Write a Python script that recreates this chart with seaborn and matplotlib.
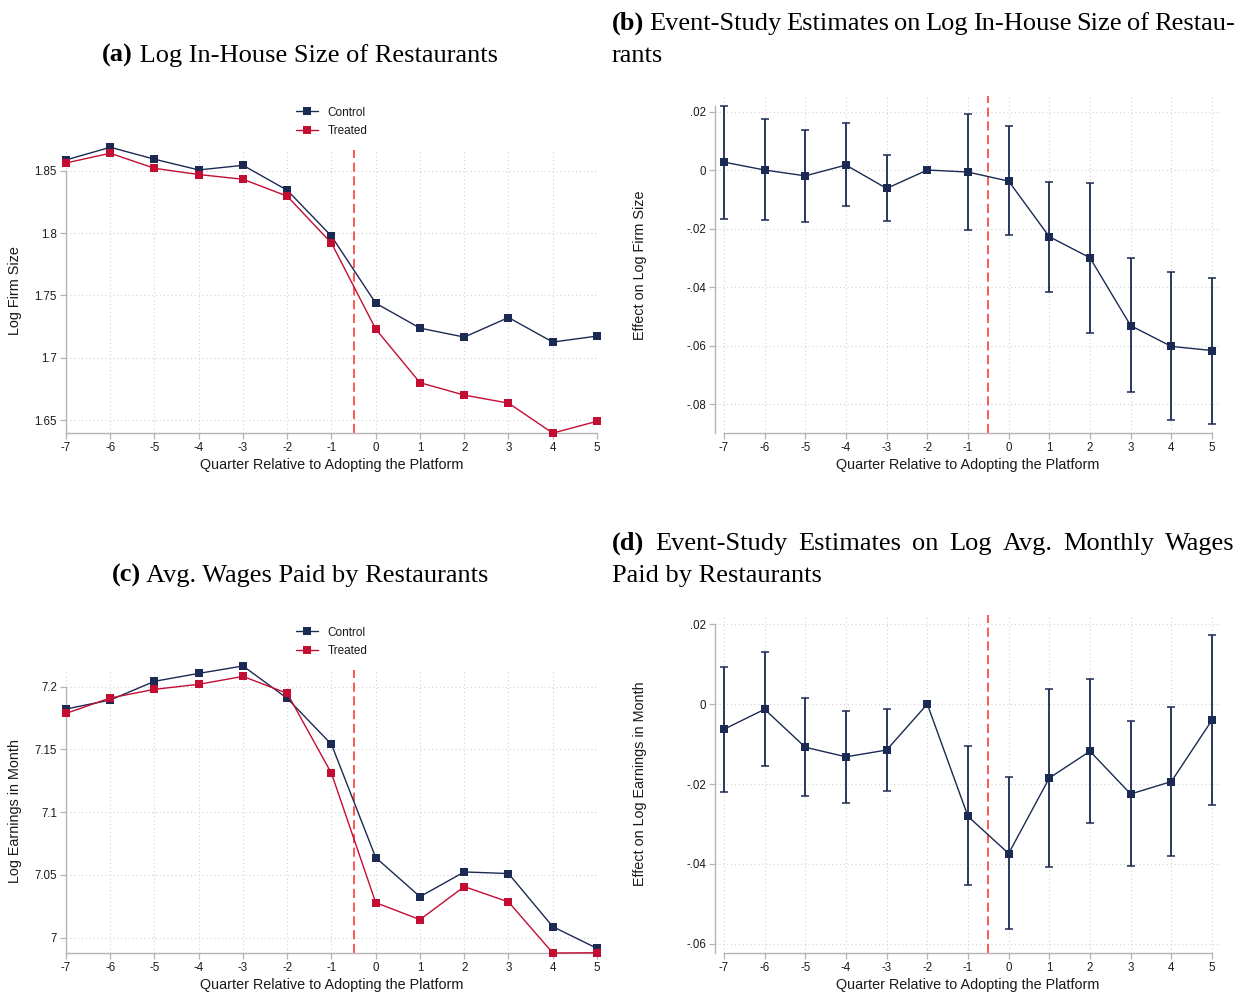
import matplotlib
matplotlib.use("Agg")
import matplotlib.pyplot as plt
import seaborn as sns
import pandas as pd

# ---- data -------------------------------------------------------------
quarters = [-7, -6, -5, -4, -3, -2, -1, 0, 1, 2, 3, 4, 5]
xtick_labels = ["-7", "-6", "-5", "-4", "-3", "-2", "-1", "0", "1", "2", "3", "4", "5"]

size_control = [1.8588, 1.8690, 1.8594, 1.8508, 1.8545, 1.8345, 1.7976,
                1.7438, 1.7238, 1.7166, 1.7323, 1.7126, 1.7174]
size_treated = [1.8564, 1.8642, 1.8521, 1.8471, 1.8433, 1.8297, 1.7920,
                1.7230, 1.6800, 1.6700, 1.6636, 1.6395, 1.6490]

wage_control = [7.1822, 7.1894, 7.2043, 7.2106, 7.2165, 7.1907, 7.1540,
                7.0638, 7.0327, 7.0524, 7.0511, 7.0088, 6.9915]
wage_treated = [7.1787, 7.1910, 7.1979, 7.2019, 7.2082, 7.1947, 7.1309,
                7.0279, 7.0144, 7.0407, 7.0285, 6.9878, 6.9880]

es_size_coef = [0.0027, 0.0000, -0.0020, 0.0017, -0.0063, 0.0000, -0.0007,
                -0.0038, -0.0228, -0.0300, -0.0532, -0.0603, -0.0617]
es_size_hi = [0.0220, 0.0174, 0.0136, 0.0160, 0.0051, 0.0000, 0.0193,
              0.0152, -0.0040, -0.0045, -0.0301, -0.0349, -0.0368]
es_size_lo = [-0.0167, -0.0172, -0.0178, -0.0124, -0.0175, 0.0000, -0.0206,
              -0.0222, -0.0418, -0.0556, -0.0759, -0.0856, -0.0868]

es_wage_coef = [-0.0063, -0.0013, -0.0108, -0.0132, -0.0115, 0.0000, -0.0281,
                -0.0374, -0.0185, -0.0118, -0.0225, -0.0194, -0.0040]
es_wage_hi = [0.0094, 0.0130, 0.0016, -0.0018, -0.0013, 0.0000, -0.0106,
              -0.0183, 0.0038, 0.0062, -0.0042, -0.0007, 0.0174]
es_wage_lo = [-0.0221, -0.0156, -0.0231, -0.0248, -0.0217, 0.0000, -0.0452,
              -0.0562, -0.0408, -0.0298, -0.0406, -0.0381, -0.0253]

size_yticks = [1.65, 1.7, 1.75, 1.8, 1.85]
size_ytick_labels = ["1.65", "1.7", "1.75", "1.8", "1.85"]
wage_yticks = [7.0, 7.05, 7.1, 7.15, 7.2]
wage_ytick_labels = ["7", "7.05", "7.1", "7.15", "7.2"]
es_size_yticks = [-0.08, -0.06, -0.04, -0.02, 0.0, 0.02]
es_size_ytick_labels = ["-.08", "-.06", "-.04", "-.02", "0", ".02"]
es_wage_yticks = [-0.06, -0.04, -0.02, 0.0, 0.02]
es_wage_ytick_labels = ["-.06", "-.04", "-.02", "0", ".02"]

adoption_cut = -0.5

# ---- style ------------------------------------------------------------
sns.set_theme(style="white")
plt.rcParams["font.family"] = ["Liberation Sans", "DejaVu Sans"]

NAVY = "#1b2a52"
CRIMSON = "#c40d33"
CUT_RED = "#ff2a2a"
SPINE = "#b4b4b4"
GRID = "#d2d2d2"
TEXT = "#1a1a1a"
SERIF = ["Liberation Serif", "DejaVu Serif"]

W, H = 1247, 996
fig = plt.figure(figsize=(W / 100, H / 100), dpi=100)


def px_axes(left, right, top, bottom):
    return fig.add_axes([left / W, 1 - bottom / H, (right - left) / W, (bottom - top) / H])


def style_axes(ax, yticks, ylabels, ylim, xlim, ybound_top):
    ax.set_xlim(*xlim)
    ax.set_ylim(*ylim)
    ax.set_xticks(quarters)
    ax.set_xticklabels(xtick_labels)
    ax.set_yticks(yticks)
    ax.set_yticklabels(ylabels)
    ax.set_xlabel("")
    ax.set_ylabel("")
    for side in ("top", "right"):
        ax.spines[side].set_visible(False)
    for side in ("left", "bottom"):
        ax.spines[side].set_color(SPINE)
        ax.spines[side].set_linewidth(1.0)
    ax.spines["left"].set_bounds(ylim[0], ybound_top)
    ax.spines["bottom"].set_bounds(quarters[0], quarters[-1])
    ax.tick_params(axis="both", which="major", direction="out", length=4, width=0.9,
                   color=SPINE, labelsize=8.3, labelcolor=TEXT, pad=2.5,
                   left=True, bottom=True)
    ax.grid(True, which="major", color=GRID, linestyle=(0, (1, 2.5)), linewidth=0.8)
    ax.set_axisbelow(True)
    ax.axvline(adoption_cut, color=CUT_RED, linewidth=1.1, dashes=(6, 3), zorder=2)


def levels_panel(ax, control, treated):
    df = pd.DataFrame({
        "quarter": quarters * 2,
        "value": control + treated,
        "group": ["Control"] * len(quarters) + ["Treated"] * len(quarters),
    })
    sns.lineplot(data=df, x="quarter", y="value", hue="group",
                 palette={"Control": NAVY, "Treated": CRIMSON},
                 marker="s", markersize=6.3, markeredgewidth=0, linewidth=1.0,
                 ax=ax, zorder=3, clip_on=False)
    leg = ax.legend(loc="upper center", bbox_to_anchor=(0.5, 1.17), frameon=False,
                    fontsize=8.5, handlelength=1.9, handletextpad=0.8,
                    labelspacing=0.55, borderaxespad=0)
    for t in leg.get_texts():
        t.set_color(TEXT)


def event_panel(ax, coef, lo, hi):
    ax.errorbar(quarters, coef,
                yerr=[[c - l for c, l in zip(coef, lo)], [h - c for c, h in zip(coef, hi)]],
                fmt="none", ecolor=NAVY, elinewidth=1.3, capsize=3.2, capthick=1.1,
                zorder=3)
    sns.lineplot(x=quarters, y=coef, color=NAVY, marker="s", markersize=6.3,
                 markeredgewidth=0, linewidth=1.0, ax=ax, zorder=4, clip_on=False)


# panel (a)
ax_a = px_axes(66, 597, 150, 433)
levels_panel(ax_a, size_control, size_treated)
style_axes(ax_a, size_yticks, size_ytick_labels, (1.6396, 1.8668), (-7, 5), 1.85)

# panel (b)
ax_b = px_axes(715, 1218.5, 96, 433)
event_panel(ax_b, es_size_coef, es_size_lo, es_size_hi)
style_axes(ax_b, es_size_yticks, es_size_ytick_labels, (-0.0899, 0.0253), (-7.22, 5.16), 0.022)

# panel (c)
ax_c = px_axes(66, 597, 670, 953)
levels_panel(ax_c, wage_control, wage_treated)
style_axes(ax_c, wage_yticks, wage_ytick_labels, (6.9878, 7.2133), (-7, 5), 7.2)

# panel (d)
ax_d = px_axes(715, 1218.5, 615, 953)
event_panel(ax_d, es_wage_coef, es_wage_lo, es_wage_hi)
style_axes(ax_d, es_wage_yticks, es_wage_ytick_labels, (-0.0623, 0.0223), (-7.22, 5.16), 0.02)


# ---- axis titles ------------------------------------------------------
def ftext(x, y, s, **kw):
    return fig.text(x / W, 1 - y / H, s, **kw)


LABEL_SIZE = 10.4
xlab = "Quarter Relative to Adopting the Platform"
for cx, cy in [(332, 465), (968, 465), (332, 985), (968, 985)]:
    ftext(cx, cy, xlab, ha="center", va="center", fontsize=LABEL_SIZE, color=TEXT)

ftext(15, 291, "Log Firm Size", rotation=90, ha="center", va="center",
      fontsize=LABEL_SIZE, color=TEXT)
ftext(640, 265, "Effect on Log Firm Size", rotation=90, ha="center", va="center",
      fontsize=LABEL_SIZE, color=TEXT)
ftext(15, 811, "Log Earnings in Month", rotation=90, ha="center", va="center",
      fontsize=LABEL_SIZE, color=TEXT)
ftext(640, 784, "Effect on Log Earnings in Month", rotation=90, ha="center", va="center",
      fontsize=LABEL_SIZE, color=TEXT)

# ---- panel captions ---------------------------------------------------
TITLE_SIZE = 19
TITLE_COLOR = "black"
renderer = fig.canvas.get_renderer()


def caption_centered(cx, baseline, tag, body):
    t1 = ftext(0, baseline, tag, fontsize=TITLE_SIZE, family=SERIF, weight="bold",
               ha="left", va="baseline", color=TITLE_COLOR)
    t2 = ftext(0, baseline, " " + body, fontsize=TITLE_SIZE, family=SERIF,
               ha="left", va="baseline", color=TITLE_COLOR)
    w1 = t1.get_window_extent(renderer).width
    w2 = t2.get_window_extent(renderer).width
    x0 = cx - (w1 + w2) / 2
    t1.set_x(x0 / W)
    t2.set_x((x0 + w1) / W)


def caption_justified(x0, x1, baseline, words):
    # words: list of (text, bold); spread evenly across [x0, x1]
    items = []
    for s, bold in words:
        t = ftext(0, baseline, s, fontsize=TITLE_SIZE, family=SERIF,
                  weight="bold" if bold else "normal", ha="left", va="baseline",
                  color=TITLE_COLOR)
        items.append((t, t.get_window_extent(renderer).width))
    total = sum(w for _, w in items)
    gap = (x1 - x0 - total) / max(len(items) - 1, 1)
    x = x0
    for t, w in items:
        t.set_x(x / W)
        x += w + gap


def caption_left(x0, baseline, text):
    ftext(x0, baseline, text, fontsize=TITLE_SIZE, family=SERIF, ha="left",
          va="baseline", color=TITLE_COLOR)


caption_centered(300, 62, "(a)", "Log In-House Size of Restaurants")
caption_centered(300, 582, "(c)", "Avg. Wages Paid by Restaurants")

caption_justified(612, 1235, 30, [("(b)", True), ("Event-Study", False), ("Estimates", False),
                                  ("on", False), ("Log", False), ("In-House", False),
                                  ("Size", False), ("of", False), ("Restau-", False)])
caption_left(612, 62, "rants")

caption_justified(612, 1235, 550, [("(d)", True), ("Event-Study", False), ("Estimates", False),
                                   ("on", False), ("Log", False), ("Avg.", False),
                                   ("Monthly", False), ("Wages", False)])
caption_left(612, 582, "Paid by Restaurants")

fig.savefig("out.png", dpi=100, facecolor="white")
